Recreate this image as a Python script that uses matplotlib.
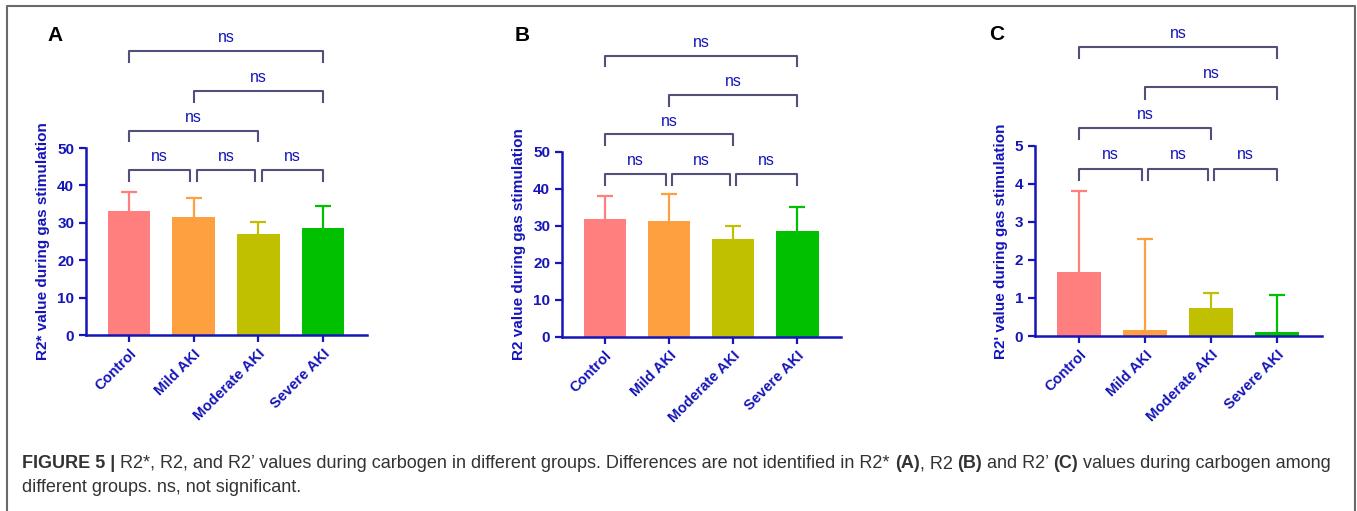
import numpy as np
import matplotlib
matplotlib.use("Agg")
import matplotlib.pyplot as plt
from matplotlib.lines import Line2D

plt.rcParams['font.family'] = ['Liberation Sans', 'DejaVu Sans']

# data (mean and upper SD)
groups = ['Control', 'Mild AKI', 'Moderate AKI', 'Severe AKI']
r2star_mean = [33.2, 31.6, 27.0, 28.6]
r2star_sd = [5.0, 4.9, 3.2, 5.8]
r2_mean = [31.7, 31.4, 26.3, 28.6]
r2_sd = [6.3, 7.1, 3.5, 6.4]
r2p_mean = [1.68, 0.15, 0.74, 0.10]
r2p_sd = [2.14, 2.39, 0.40, 0.97]
comparisons = [(0, 1), (1, 2), (2, 3), (0, 2), (1, 3), (0, 3)]
comparison_labels = ['ns', 'ns', 'ns', 'ns', 'ns', 'ns']
comparison_levels = [0, 0, 0, 1, 2, 3]

colors = ['#FF7F7F', '#FFA040', '#C0C000', '#00C000']
blue = '#1515B8'
bracket_color = '#50507A'

W, H = 1357, 511
fig = plt.figure(figsize=(W / 100, H / 100), dpi=100)


def draw_panel(rect, means, sds, ymax, ystep, ylabel, letter, letter_xy):
    ax = fig.add_axes(rect)
    x = np.arange(len(groups))
    tops = np.array(means) + np.array(sds)
    # upper-only error bars: stem + cap
    ax.vlines(x, means, tops, colors=colors, lw=1.6, zorder=1)
    for i in x:
        ax.plot(i, tops[i], marker='_', ms=12, mew=1.6, color=colors[i], zorder=1)
    ax.bar(x, means, width=0.66, color=colors, zorder=2)
    ax.set_xlim(-0.665, 3.68)
    ax.set_ylim(0, ymax)
    for s in ['top', 'right']:
        ax.spines[s].set_visible(False)
    for s in ['left', 'bottom']:
        ax.spines[s].set_color(blue)
        ax.spines[s].set_linewidth(1.8)
    ax.set_yticks(np.arange(0, ymax + ystep / 2, ystep))
    ax.tick_params(colors=blue, width=1.6, length=5)
    ax.tick_params(axis='y', labelsize=11)
    ax.tick_params(axis='x', labelsize=10.5)
    ax.set_xticks(x)
    ax.set_xticklabels(groups, rotation=45, ha='right', rotation_mode='anchor',
                       fontweight='bold')
    for lbl in ax.get_yticklabels():
        lbl.set_fontweight('bold')
    ax.set_ylabel(ylabel, color=blue, fontweight='bold', fontsize=11, labelpad=5)

    # significance brackets
    leg = 0.058 * ymax
    for (a, b), lab, lev in zip(comparisons, comparison_labels, comparison_levels):
        x1, x2 = a, b
        if lev == 0:
            if any(c[1] == a and l == 0 for c, l in zip(comparisons, comparison_levels)):
                x1 = a + 0.05
            if any(c[0] == b and l == 0 for c, l in zip(comparisons, comparison_levels)):
                x2 = b - 0.05
        y = ymax * (0.88 + 0.213 * lev)
        ax.plot([x1, x1, x2, x2], [y - leg, y, y, y - leg], color=bracket_color,
                lw=1.5, clip_on=False)
        ax.text((x1 + x2) / 2, y + 0.072 * ymax, lab, ha='center', va='center',
                color=blue, fontsize=11.5, clip_on=False)

    fig.text(letter_xy[0] / W, 1 - letter_xy[1] / H, letter, fontsize=15,
             fontweight='bold', ha='center', va='center')
    return ax


draw_panel([86 / W, 1 - 335 / H, 281 / W, 187 / H], r2star_mean, r2star_sd, 50, 10,
           'R2* value during gas stimulation', 'A', (55, 35))
draw_panel([562 / W, 1 - 336.7 / H, 279 / W, 185 / H], r2_mean, r2_sd, 50, 10,
           'R2 value during gas stimulation', 'B', (522, 35))
draw_panel([1035 / W, 1 - 336 / H, 287 / W, 190.3 / H], r2p_mean, r2p_sd, 5, 1,
           "R2' value during gas stimulation", 'C', (997, 34))

# outer frame (open at the bottom)
frame_x = [7 / W, 7 / W, 1355 / W, 1355 / W]
frame_y = [-0.05, 1 - 6 / H, 1 - 6 / H, -0.05]
fig.add_artist(Line2D(frame_x, frame_y, color='#6a6a6a', lw=1.5))

# caption with mixed weights
renderer = fig.canvas.get_renderer()
cap_size = 13


def text_width(s, weight):
    t = fig.text(0, 0, '|' + s + '|', fontsize=cap_size, fontweight=weight)
    t2 = fig.text(0, 0, '||', fontsize=cap_size, fontweight=weight)
    w = t.get_window_extent(renderer).width - t2.get_window_extent(renderer).width
    t.remove()
    t2.remove()
    return w


def caption_line(segments, x_px, y_px):
    for s, wgt in segments:
        fig.text(x_px / W, 1 - y_px / H, s, fontsize=cap_size, fontweight=wgt,
                 color='#333333', va='center', ha='left')
        x_px += text_width(s, wgt)


caption_line([('FIGURE 5 | ', 'bold'),
              ('R2*, R2, and R2\u2019 values during carbogen in different groups. '
               'Differences are not identified in R2* ', 'normal'),
              ('(A)', 'bold'), (', R2 ', 'normal'), ('(B)', 'bold'),
              (' and R2\u2019 ', 'normal'), ('(C)', 'bold'),
              (' values during carbogen among', 'normal')], 22, 464)
caption_line([('different groups. ns, not significant.', 'normal')], 22, 488)

fig.savefig('out.png', dpi=100)
